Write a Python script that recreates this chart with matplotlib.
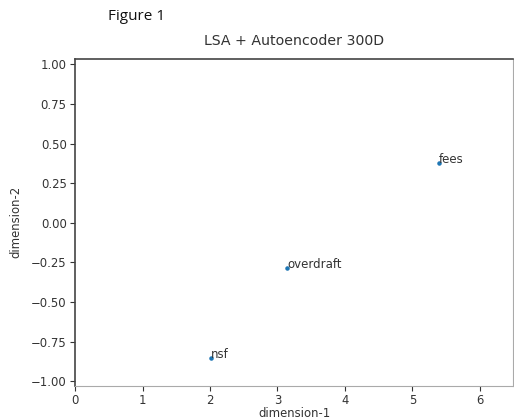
import matplotlib
matplotlib.use("Agg")
import matplotlib.pyplot as plt

words = ["fees", "overdraft", "nsf"]
dim1 = [5.39, 3.14, 2.01]
dim2 = [0.38, -0.287, -0.855]
xticks = [0, 1, 2, 3, 4, 5, 6]
yticks = [-1.00, -0.75, -0.50, -0.25, 0.00, 0.25, 0.50, 0.75, 1.00]

fig = plt.figure(figsize=(5.14, 4.2), dpi=100)
ax = fig.add_axes([0.146, 0.081, 0.852, 0.779])
ax.scatter(dim1, dim2, s=5, color="#1f77b4", zorder=3)
for w, x, y in zip(words, dim1, dim2):
    ax.annotate(w, (x, y), fontsize=8.5, color="#333333")

ax.set_xlim(0, 6.49)
ax.set_ylim(-1.03, 1.035)
ax.set_xticks(xticks)
ax.set_yticks(yticks)
ax.set_yticklabels([f"{v:.2f}".replace("-", "\u2212") for v in yticks])
ax.tick_params(labelsize=8.4, colors="#333333", length=3.5, pad=2.5)
ax.set_xlabel("dimension-1", fontsize=8.4, color="#333333", labelpad=0)
ax.set_ylabel("dimension-2", fontsize=8.4, color="#333333", labelpad=6)
ax.set_title("LSA + Autoencoder 300D", fontsize=10.2, color="#333333", pad=10)

ax.spines["top"].set_color("#444444")
ax.spines["left"].set_color("#444444")
ax.spines["top"].set_linewidth(1.2)
ax.spines["left"].set_linewidth(1.2)
ax.spines["bottom"].set_color("#aaaaaa")
ax.spines["right"].set_color("#aaaaaa")

fig.text(0.21, 0.96, "Figure 1", fontsize=11, family="Open Sans", va="center", ha="left", color="#111111")

fig.savefig("out.png", dpi=100)
